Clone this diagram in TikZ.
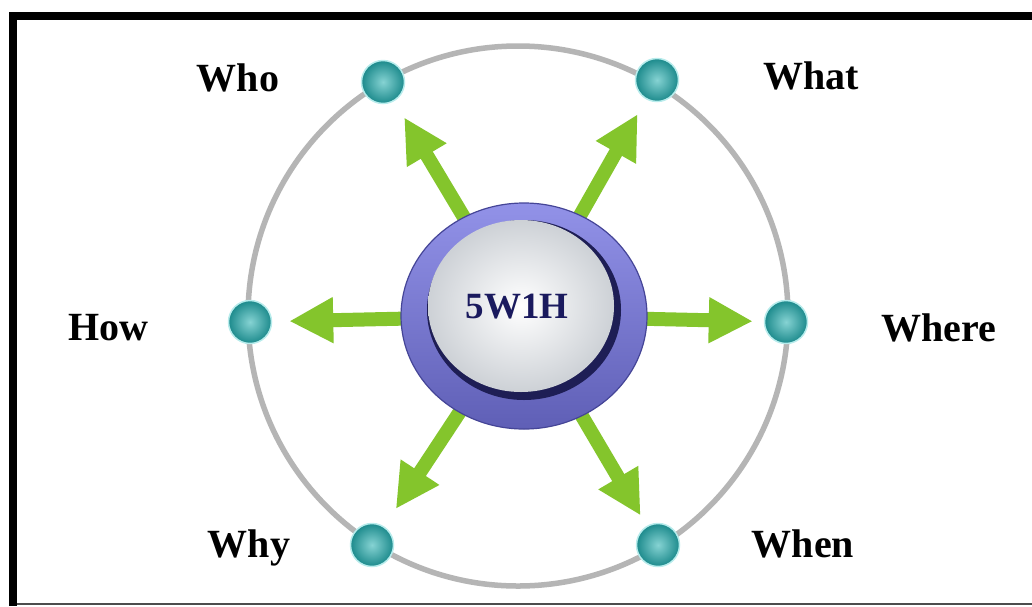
\documentclass[tikz,border=0pt]{standalone}
\usepackage{fontspec}
\setmainfont{Liberation Serif}
\usetikzlibrary{arrows.meta}
\definecolor{leaf}{HTML}{84C52C}
\definecolor{orbitgray}{HTML}{B5B5B5}
\definecolor{tealin}{HTML}{86D3D3}
\definecolor{tealout}{HTML}{1C8A8C}
\definecolor{tealglow}{HTML}{B8ECEC}
\definecolor{ringtop}{HTML}{9292E8}
\definecolor{ringbot}{HTML}{5F5FB6}
\definecolor{ringedge}{HTML}{454597}
\definecolor{navy}{HTML}{1E1E55}
\definecolor{discgray}{HTML}{CDD1D6}
\definecolor{hubtext}{HTML}{1A1A5E}
\tikzset{
  orbit/.style={draw=orbitgray, line width=5.5pt},
  ball/.style={circle, minimum size=43pt, inner sep=0pt,
    inner color=tealin, outer color=tealout, draw=tealglow, line width=1.5pt},
  lab/.style={anchor=base, font=\fontsize{40}{48}\selectfont\bfseries},
  garrow/.style={draw=leaf, line width=14pt, shorten <=100pt,
    -{Triangle[width=43pt,length=44pt,fill=leaf]}},
}
\begin{document}
\begin{tikzpicture}[x=1pt,y=-1pt]
\useasboundingbox (0,0) rectangle (1032,606);
\fill[white] (0,0) rectangle (1032,606);
% frame
\fill[black] (9,12) rectangle (1032,20);
\fill[black] (9,12) rectangle (17,606);
\draw[black!70, line width=2pt] (17,604) -- (1032,604);

% orbit and the six satellites
\draw[orbit] (518,316) circle (270pt);
\node[ball] (who)   at (383,82)  {};
\node[ball] (what)  at (657,80)  {};
\node[ball] (how)   at (250,322) {};
\node[ball] (where) at (786,322) {};
\node[ball] (why)   at (372,545) {};
\node[ball] (when)  at (658,545) {};

% labels
\node[lab] (tWho)   at (238,91)  {Who};
\node[lab] (tWhat)  at (811,89)  {What};
\node[lab] (tHow)   at (108,340) {How};
\node[lab] (tWhere) at (939,341) {Where};
\node[lab] (tWhy)   at (249,557) {Why};
\node[lab] (tWhen)  at (803,557) {When};

% arrows from the hub
\coordinate (hub) at (523,316);
\draw[garrow, shorten >=19pt] (hub) -- (who);
\draw[garrow, shorten >=17pt] (hub) -- (what);
\draw[garrow, shorten >=17pt] (hub) -- (how);
\draw[garrow, shorten >=11pt] (hub) -- (where);
\draw[garrow, shorten >=21pt] (hub) -- (why);
\draw[garrow, shorten >=12pt] (hub) -- (when);

% central button
\shade[top color=ringtop, bottom color=ringbot] (524,316) ellipse [x radius=123pt, y radius=113pt];
\draw[ringedge, line width=1.2pt] (524,316) ellipse [x radius=123pt, y radius=113pt];
\fill[navy] (524,310) ellipse [x radius=97pt, y radius=90pt];
\shade[inner color=white, outer color=discgray] (521,306) ellipse [x radius=93pt, y radius=86pt];
\node[anchor=base, text=hubtext, font=\fontsize{37}{44}\selectfont\bfseries] (core) at (517,318) {5W1H};
\end{tikzpicture}
\end{document}
